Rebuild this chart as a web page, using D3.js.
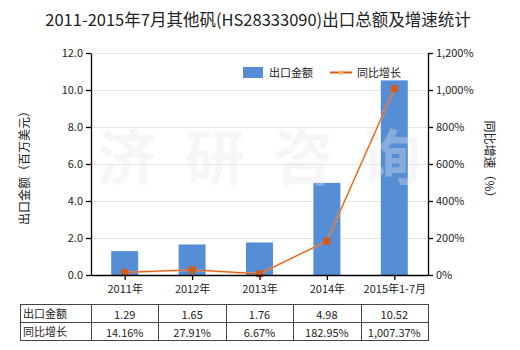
<!DOCTYPE html>
<html><head><meta charset="utf-8">
<script src="https://cdn.jsdelivr.net/npm/d3@7"></script>
<style>body{margin:0;background:#fff;} text{font-family:"Noto Sans CJK SC","Microsoft YaHei",sans-serif;}</style>
</head><body>
<svg id="c" width="520" height="350"></svg>
<script>
const categories = ["2011年","2012年","2013年","2014年","2015年1-7月"];
const exportValues = [1.29, 1.65, 1.76, 4.98, 10.52];
const growthValues = [14.16, 27.91, 6.67, 182.95, 1007.37];
const exportLabels = ["1.29","1.65","1.76","4.98","10.52"];
const growthLabels = ["14.16%","27.91%","6.67%","182.95%","1,007.37%"];
const leftTicks = [0,2,4,6,8,10,12];
const rightTicks = [0,200,400,600,800,1000,1200];
const watermarkChars = ["济","研","咨","询"];

const svg = d3.select("#c");
const L = 91, R = 428, T = 53, B = 275;
const xc = d3.scalePoint().domain(categories).range([L, R]).padding(0.5);
const yL = d3.scaleLinear().domain([0, 12]).range([B, T]);
const yR = d3.scaleLinear().domain([0, 1200]).range([B, T]);

// title
svg.append("text").attr("x", 258).attr("y", 26).attr("text-anchor", "middle")
  .attr("font-size", 16.5).attr("fill", "#222").text("2011-2015年7月其他矾(HS28333090)出口总额及增速统计");

// gridlines
svg.append("g").selectAll("line").data(leftTicks.slice(1)).join("line")
  .attr("x1", L).attr("x2", R).attr("y1", d => Math.round(yL(d)) + 0.5).attr("y2", d => Math.round(yL(d)) + 0.5)
  .attr("stroke", "#e8e8e0").attr("stroke-width", 1);

// bars
const bw = 27;
svg.append("g").selectAll("rect").data(exportValues).join("rect")
  .attr("x", (d, i) => xc(categories[i]) - bw / 2)
  .attr("width", bw)
  .attr("y", d => yL(d))
  .attr("height", d => B - yL(d))
  .attr("fill", "#558ed5");

// watermark
svg.append("g").selectAll("text").data(watermarkChars).join("text")
  .attr("x", (d, i) => 127 + i * 88).attr("y", 180).attr("text-anchor", "middle")
  .attr("font-size", 60).attr("font-weight", "bold").attr("fill", "#e8e8ee").attr("opacity", 0.35)
  .text(d => d);

// line
const line = d3.line().x((d, i) => xc(categories[i])).y(d => yR(d));
svg.append("path").datum(growthValues).attr("d", line).attr("fill", "none")
  .attr("stroke", "#f6b26b").attr("stroke-width", 2.2).attr("opacity", 0.7);
svg.append("path").datum(growthValues).attr("d", line).attr("fill", "none")
  .attr("stroke", "#d9541a").attr("stroke-width", 1);
svg.append("g").selectAll("rect").data(growthValues).join("rect")
  .attr("x", (d, i) => xc(categories[i]) - 3.5).attr("y", d => yR(d) - 3.5)
  .attr("width", 7).attr("height", 7).attr("fill", "#d35a1a");

// axes
const axL = svg.append("g").attr("transform", `translate(${L},0)`)
  .call(d3.axisLeft(yL).tickValues(leftTicks).tickFormat(d3.format(".1f")).tickSize(5).tickSizeOuter(0));
const axR = svg.append("g").attr("transform", `translate(${R},0)`)
  .call(d3.axisRight(yR).tickValues(rightTicks).tickFormat(d => d3.format(",")(d) + "%").tickSize(5).tickSizeOuter(0));
const axB = svg.append("g").attr("transform", `translate(0,${B})`)
  .call(d3.axisBottom(xc).tickSize(5).tickSizeOuter(0).tickPadding(5));
[axL, axR, axB].forEach(a => {
  a.selectAll("path,line").attr("stroke", "#000").attr("stroke-width", 1.3);
  a.selectAll("text").attr("font-size", 11).attr("fill", "#222")
    .style("font-family", "'Noto Sans CJK SC',sans-serif");
});
axB.select("path").attr("d", `M${L},0.5H${R}`);

// axis titles
svg.append("text").attr("transform", "translate(29,165) rotate(-90)").attr("text-anchor", "middle")
  .attr("font-size", 12).attr("fill", "#222").text("出口金额（百万美元）");
svg.append("text").attr("transform", "translate(485,162) rotate(90)").attr("text-anchor", "middle")
  .attr("font-size", 12).attr("fill", "#222").text("同比增速（%）");

// legend
svg.append("rect").attr("x", 243).attr("y", 67).attr("width", 20).attr("height", 11).attr("fill", "#558ed5");
svg.append("text").attr("x", 269).attr("y", 77).attr("font-size", 11).attr("fill", "#222").text("出口金额");
svg.append("line").attr("x1", 330).attr("x2", 352).attr("y1", 72.5).attr("y2", 72.5).attr("stroke", "#d9541a").attr("stroke-width", 2);
svg.append("rect").attr("x", 338.5).attr("y", 70.5).attr("width", 5).attr("height", 4).attr("fill", "#f6b26b");
svg.append("text").attr("x", 357).attr("y", 77).attr("font-size", 11).attr("fill", "#222").text("同比增长");

// table
const tL = 20, tT = 304, rh = 18;
const colEdges = [tL].concat(categories.map(c => xc(c) - xc.step() / 2), [R]);
const tg = svg.append("g");
tg.append("rect").attr("x", tL + 0.5).attr("y", tT + 0.5).attr("width", R - tL).attr("height", rh * 2)
  .attr("fill", "none").attr("stroke", "#444");
tg.append("line").attr("x1", tL).attr("x2", R).attr("y1", tT + rh + 0.5).attr("y2", tT + rh + 0.5).attr("stroke", "#444");
tg.selectAll("line.v").data(colEdges.slice(1, -1)).join("line").attr("class", "v")
  .attr("x1", d => Math.round(d) + 0.5).attr("x2", d => Math.round(d) + 0.5)
  .attr("y1", tT).attr("y2", tT + rh * 2).attr("stroke", "#444");
const rows = [["出口金额", exportLabels], ["同比增长", growthLabels]];
rows.forEach((r, ri) => {
  const yy = tT + rh * ri + 13.5;
  tg.append("text").attr("x", tL + 3).attr("y", yy).attr("font-size", 11).attr("fill", "#222").text(r[0]);
  tg.selectAll(null).data(r[1]).join("text").attr("x", (d, i) => xc(categories[i]))
    .attr("y", yy + 1).attr("text-anchor", "middle").attr("font-size", 11).attr("fill", "#222").text(d => d);
});
</script>
</body></html>
